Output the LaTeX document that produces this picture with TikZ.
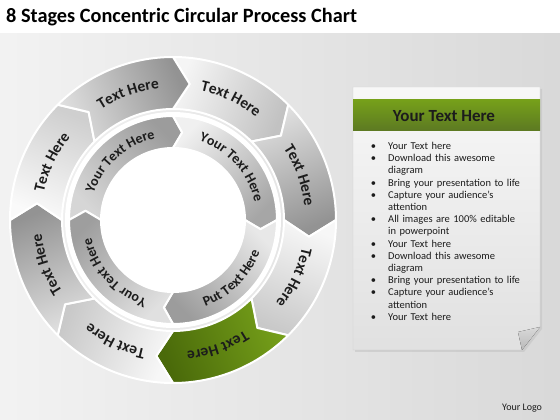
\documentclass[tikz,border=0pt]{standalone}
\usepackage{fontspec}
\setmainfont{Carlito}
\usetikzlibrary{decorations.text}

\definecolor{leaf}{HTML}{76A01A}
\definecolor{leafdark}{HTML}{4A6A0A}
\definecolor{ink}{HTML}{1C1C1C}

% #1 back angle, #2 front angle, #3 inner radius, #4 outer radius, #5 notch, #6 back colour, #7 front colour
\newcommand\arcpiece[7]{%
  \pgfmathsetmacro\midr{(#3+#4)/2}%
  \pgfmathsetmacro\shang{(#1+#2)/2-180}%
  \path[seg, top color=#7, bottom color=#6, shading angle=\shang]
    (#1:#4) arc[start angle=#1, end angle=#2, radius=#4]
    -- (#2-#5:\midr) -- (#2:#3)
    arc[start angle=#2, end angle=#1, radius=#3]
    -- (#1-#5:\midr) -- cycle;}

% #1 from, #2 to, #3 radius, #4 size, #5 text
\newcommand\arclabel[5]{%
  \path[decorate, decoration={text along path, text align=center, text color=ink,
      text={|\fontsize{#4}{#4}\selectfont\bfseries|#5}}]
    (#1:#3) arc[start angle=#1, end angle=#2, radius=#3];}

\newcommand\blt{\leavevmode\llap{\textbullet\hspace{12pt}}}

\tikzset{
  seg/.style={draw=white, line width=2pt, line join=round},
  sheet/.style={top color=gray!6, bottom color=gray!24, draw=gray!40, line width=.4pt},
}

\begin{document}
\begin{tikzpicture}[x=1pt, y=1pt]
  \useasboundingbox (-173,-200) rectangle (387,220);
  % background
  \fill[left color=gray!10, middle color=white, right color=gray!30] (-173,-200) rectangle (387,187);
  \fill[white] (-173,187) rectangle (387,220);
  \node[anchor=base west, inner sep=0, font=\fontsize{20.3}{24}\selectfont\bfseries, text=black]
    (title) at (-167,197) {8 Stages Concentric Circular Process Chart};

  % rings
  \fill[white] (0,0) circle[radius=108];
  \foreach \a/\cb/\cf in {90/gray!8/gray!48, 45/gray!25/gray!85, 0/gray!6/gray!42,
      -45/leaf/leafdark, -90/gray!6/gray!42, -135/gray!25/gray!85,
      180/gray!4/gray!38, 135/gray!25/gray!85}
    \arcpiece{\a}{\a-45}{111}{163}{7}{\cb}{\cf};
  \foreach \a/\cb/\cf in {180/gray!32/gray!78, 90/gray!12/gray!70,
      0/gray!18/gray!78, -90/gray!24/gray!76}
    \arcpiece{\a}{\a-90}{72}{104}{6}{\cb}{\cf};

  \foreach \a in {90,45,...,-225}
    \arclabel{\a-3}{\a-48}{132}{15.5}{Text Here};
  \foreach \a/\t in {180/Your Text Here, 90/Your Text Here, -90/Your Text Here}
    \arclabel{\a-3}{\a-93}{83.5}{14}{\t};
  \arclabel{-90}{0}{92.5}{14}{Put Text Here};

  % note sheet
  \fill[gray!50, opacity=.5] (182,131) -- (369,131) -- (369,-109) -- (351,-132) -- (182,-132) -- cycle;
  \path[sheet] (180,133) -- (367,133) -- (367,-107) -- (349,-130) -- (180,-130) -- cycle;
  \fill[top color=leaf, bottom color=leafdark!90] (180,120) rectangle (367,89);
  \fill[top color=gray!30, bottom color=gray!55] (367,-107) -- (345,-112) -- (349,-130) -- cycle;
  \node[inner sep=0, font=\fontsize{17}{17}\selectfont\bfseries, text=ink] (head) at (271,104) {Your Text Here};
  \node[anchor=base west, inner sep=0, text width=165pt, align=left,
      font=\fontsize{10.5}{12.2}\selectfont, text=ink] (points) at (215,70.5) {%
    \blt Your Text here\\
    \blt Download this awesome\\ diagram\\
    \blt Bring your presentation to life\\
    \blt Capture your audience's\\ attention\\
    \blt All images are 100\% editable\\ in powerpoint\\
    \blt Your Text here\\
    \blt Download this awesome\\ diagram\\
    \blt Bring your presentation to life\\
    \blt Capture your audience's\\ attention\\
    \blt Your Text here};

  \node[anchor=base west, inner sep=0, font=\fontsize{10}{12}\selectfont, text=ink]
    (logo) at (329,-190.5) {Your Logo};
\end{tikzpicture}
\end{document}
